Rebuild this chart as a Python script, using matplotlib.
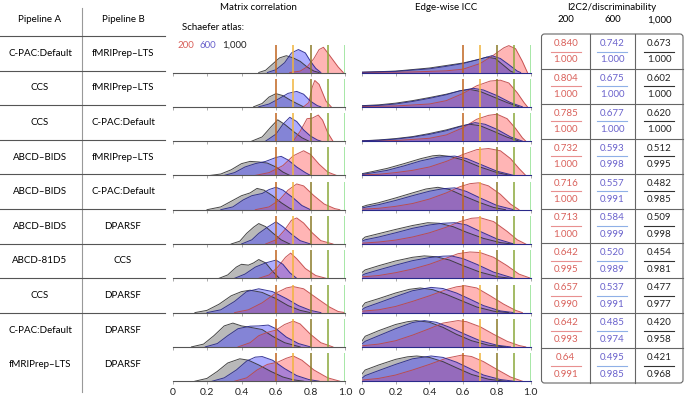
import matplotlib
matplotlib.use('Agg')
import matplotlib.pyplot as plt
import numpy as np
from matplotlib.patches import FancyBboxPatch

plt.rcParams['font.family'] = ['Lato', 'DejaVu Sans']

###########################################
##############   Data   ###################
###########################################

pipeline_a = ['C-PAC:Default', 'CCS', 'CCS', 'ABCD–BIDS', 'ABCD–BIDS', 'ABCD–BIDS',
              'ABCD-81D5', 'CCS', 'C-PAC:Default', 'fMRIPrep–LTS']
pipeline_b = ['fMRIPrep–LTS', 'fMRIPrep–LTS', 'C-PAC:Default', 'fMRIPrep–LTS', 'C-PAC:Default',
              'DPARSF', 'CCS', 'DPARSF', 'DPARSF', 'DPARSF']
atlas_labels = ['200', '600', '1,000']

# I2C2 (top) and discriminability (bottom) per atlas
i2c2_200 = ['0.840', '0.804', '0.785', '0.732', '0.716', '0.713', '0.642', '0.657', '0.642', '0.64']
i2c2_600 = ['0.742', '0.675', '0.677', '0.593', '0.557', '0.584', '0.520', '0.537', '0.485', '0.495']
i2c2_1000 = ['0.673', '0.602', '0.620', '0.512', '0.482', '0.509', '0.454', '0.477', '0.420', '0.421']
disc_200 = ['1.000', '1.000', '1.000', '1.000', '1.000', '1.000', '0.995', '0.990', '0.993', '0.991']
disc_600 = ['1.000', '1.000', '1.000', '0.998', '0.991', '0.999', '0.989', '0.991', '0.974', '0.985']
disc_1000 = ['1.000', '1.000', '1.000', '0.995', '0.985', '0.998', '0.981', '0.977', '0.958', '0.968']

thresholds = [0.6, 0.7, 0.8, 0.9, 1.0]

# density curves, (value, relative height) knots per row
mc_1000 = [
    [(0.50, 0), (0.54, 0.08), (0.58, 0.3), (0.62, 0.52), (0.66, 0.6), (0.70, 0.52), (0.74, 0.4), (0.78, 0.2), (0.82, 0.05), (0.85, 0)],
    [(0.47, 0), (0.52, 0.12), (0.56, 0.35), (0.60, 0.47), (0.64, 0.4), (0.68, 0.25), (0.72, 0.12), (0.76, 0)],
    [(0.46, 0), (0.52, 0.15), (0.57, 0.5), (0.61, 0.76), (0.65, 0.6), (0.70, 0.35), (0.75, 0.12), (0.79, 0)],
    [(0.22, 0), (0.28, 0.05), (0.34, 0.2), (0.40, 0.42), (0.45, 0.5), (0.50, 0.48), (0.55, 0.44), (0.60, 0.3), (0.64, 0.12), (0.68, 0)],
    [(0.20, 0), (0.28, 0.1), (0.34, 0.3), (0.40, 0.5), (0.45, 0.6), (0.49, 0.76), (0.53, 0.7), (0.58, 0.5), (0.63, 0.25), (0.68, 0.05), (0.70, 0)],
    [(0.34, 0), (0.39, 0.1), (0.43, 0.38), (0.47, 0.6), (0.50, 0.73), (0.54, 0.62), (0.58, 0.4), (0.63, 0.15), (0.68, 0)],
    [(0.27, 0), (0.32, 0.12), (0.37, 0.4), (0.40, 0.5), (0.44, 0.47), (0.47, 0.55), (0.50, 0.67), (0.54, 0.55), (0.58, 0.25), (0.62, 0)],
    [(0.13, 0), (0.20, 0.08), (0.27, 0.3), (0.34, 0.6), (0.40, 0.75), (0.45, 0.8), (0.52, 0.72), (0.60, 0.5), (0.67, 0.25), (0.74, 0.08), (0.80, 0)],
    [(0.11, 0), (0.18, 0.1), (0.24, 0.4), (0.30, 0.75), (0.35, 0.85), (0.40, 0.75), (0.45, 0.7), (0.52, 0.62), (0.58, 0.38), (0.65, 0.15), (0.74, 0)],
    [(0.13, 0), (0.20, 0.1), (0.26, 0.35), (0.32, 0.65), (0.39, 0.8), (0.44, 0.75), (0.50, 0.58), (0.57, 0.35), (0.64, 0.15), (0.70, 0.05), (0.76, 0)],
]
mc_600 = [
    [(0.55, 0), (0.60, 0.1), (0.65, 0.35), (0.69, 0.7), (0.73, 0.82), (0.77, 0.7), (0.80, 0.4), (0.83, 0.15), (0.86, 0)],
    [(0.50, 0), (0.56, 0.1), (0.62, 0.3), (0.67, 0.48), (0.72, 0.55), (0.76, 0.45), (0.80, 0.2), (0.84, 0.04), (0.86, 0)],
    [(0.54, 0), (0.60, 0.25), (0.64, 0.6), (0.68, 0.85), (0.72, 0.7), (0.76, 0.4), (0.80, 0.18), (0.84, 0.04), (0.86, 0)],
    [(0.30, 0), (0.36, 0.1), (0.42, 0.3), (0.48, 0.42), (0.54, 0.5), (0.60, 0.64), (0.63, 0.68), (0.67, 0.55), (0.72, 0.3), (0.77, 0.1), (0.80, 0)],
    [(0.28, 0), (0.35, 0.1), (0.41, 0.35), (0.46, 0.5), (0.52, 0.58), (0.56, 0.72), (0.60, 0.8), (0.64, 0.7), (0.70, 0.42), (0.75, 0.15), (0.80, 0)],
    [(0.40, 0), (0.46, 0.15), (0.50, 0.38), (0.55, 0.6), (0.60, 0.79), (0.64, 0.62), (0.69, 0.35), (0.74, 0.12), (0.80, 0)],
    [(0.36, 0), (0.42, 0.15), (0.48, 0.4), (0.54, 0.55), (0.60, 0.65), (0.64, 0.5), (0.68, 0.2), (0.72, 0)],
    [(0.20, 0), (0.28, 0.1), (0.36, 0.4), (0.43, 0.75), (0.50, 0.85), (0.58, 0.75), (0.66, 0.5), (0.73, 0.25), (0.80, 0.08), (0.86, 0)],
    [(0.19, 0), (0.26, 0.12), (0.32, 0.4), (0.38, 0.65), (0.45, 0.74), (0.50, 0.75), (0.555, 0.78), (0.60, 0.65), (0.66, 0.35), (0.73, 0.12), (0.80, 0)],
    [(0.23, 0), (0.30, 0.12), (0.37, 0.4), (0.43, 0.72), (0.48, 0.86), (0.52, 0.88), (0.58, 0.75), (0.65, 0.45), (0.72, 0.2), (0.79, 0.06), (0.85, 0)],
]
mc_200 = [
    [(0.68, 0), (0.74, 0.05), (0.78, 0.2), (0.82, 0.5), (0.85, 0.82), (0.875, 0.9), (0.90, 0.7), (0.93, 0.45), (0.96, 0.2), (0.99, 0)],
    [(0.76, 0), (0.79, 0.15), (0.81, 0.7), (0.825, 0.94), (0.85, 0.8), (0.87, 0.5), (0.89, 0.2), (0.92, 0)],
    [(0.70, 0), (0.74, 0.35), (0.78, 0.8), (0.81, 0.82), (0.845, 0.93), (0.87, 0.75), (0.90, 0.3), (0.93, 0)],
    [(0.48, 0), (0.56, 0.1), (0.64, 0.35), (0.70, 0.7), (0.76, 0.88), (0.80, 0.75), (0.85, 0.4), (0.90, 0.12), (0.95, 0)],
    [(0.48, 0), (0.56, 0.1), (0.62, 0.35), (0.67, 0.7), (0.72, 0.92), (0.76, 0.85), (0.82, 0.5), (0.88, 0.2), (0.94, 0.04), (0.97, 0)],
    [(0.54, 0), (0.60, 0.15), (0.65, 0.5), (0.69, 0.85), (0.72, 0.93), (0.76, 0.75), (0.81, 0.4), (0.86, 0.12), (0.93, 0)],
    [(0.50, 0), (0.56, 0.12), (0.61, 0.4), (0.655, 0.75), (0.685, 0.9), (0.72, 0.7), (0.77, 0.35), (0.83, 0.1), (0.89, 0)],
    [(0.36, 0), (0.44, 0.1), (0.52, 0.35), (0.60, 0.7), (0.66, 0.88), (0.70, 0.93), (0.76, 0.85), (0.84, 0.5), (0.91, 0.2), (0.96, 0.04), (1.0, 0)],
    [(0.38, 0), (0.45, 0.15), (0.50, 0.4), (0.55, 0.52), (0.60, 0.6), (0.65, 0.8), (0.70, 0.92), (0.74, 0.82), (0.80, 0.45), (0.86, 0.15), (0.93, 0)],
    [(0.36, 0), (0.43, 0.12), (0.49, 0.4), (0.55, 0.6), (0.61, 0.68), (0.66, 0.82), (0.70, 0.9), (0.75, 0.75), (0.82, 0.4), (0.90, 0.12), (0.97, 0)],
]

icc_1000 = [
    [(0, 0.01), (0.2, 0.05), (0.4, 0.16), (0.5, 0.25), (0.6, 0.34), (0.68, 0.45), (0.74, 0.55), (0.79, 0.5), (0.84, 0.25), (0.88, 0.05), (0.90, 0)],
    [(0, 0.04), (0.1, 0.07), (0.2, 0.13), (0.3, 0.22), (0.4, 0.33), (0.5, 0.45), (0.58, 0.57), (0.64, 0.62), (0.70, 0.55), (0.78, 0.35), (0.86, 0.15), (0.93, 0)],
    [(0, 0.01), (0.1, 0.04), (0.2, 0.09), (0.3, 0.16), (0.4, 0.27), (0.5, 0.4), (0.58, 0.53), (0.64, 0.6), (0.70, 0.55), (0.78, 0.35), (0.86, 0.14), (0.93, 0)],
    [(0, 0.06), (0.05, 0.12), (0.15, 0.25), (0.25, 0.42), (0.35, 0.6), (0.42, 0.7), (0.46, 0.72), (0.52, 0.68), (0.60, 0.55), (0.70, 0.3), (0.80, 0.1), (0.88, 0)],
    [(0, 0.1), (0.03, 0.16), (0.1, 0.25), (0.2, 0.42), (0.3, 0.6), (0.38, 0.74), (0.45, 0.8), (0.52, 0.72), (0.60, 0.5), (0.70, 0.25), (0.78, 0.08), (0.85, 0)],
    [(0, 0.15), (0.02, 0.25), (0.1, 0.37), (0.2, 0.52), (0.3, 0.66), (0.39, 0.76), (0.46, 0.74), (0.54, 0.62), (0.62, 0.42), (0.72, 0.2), (0.82, 0.05), (0.89, 0)],
    [(0, 0.2), (0.02, 0.3), (0.1, 0.45), (0.2, 0.62), (0.3, 0.75), (0.37, 0.8), (0.44, 0.77), (0.52, 0.65), (0.60, 0.45), (0.70, 0.22), (0.80, 0.06), (0.88, 0)],
    [(0, 0.2), (0.02, 0.35), (0.1, 0.5), (0.2, 0.7), (0.28, 0.83), (0.345, 0.88), (0.42, 0.82), (0.50, 0.65), (0.58, 0.45), (0.68, 0.2), (0.78, 0.05), (0.87, 0)],
    [(0, 0.2), (0.02, 0.38), (0.1, 0.58), (0.2, 0.8), (0.27, 0.9), (0.32, 0.94), (0.40, 0.88), (0.48, 0.7), (0.56, 0.45), (0.65, 0.22), (0.75, 0.06), (0.85, 0)],
    [(0, 0.25), (0.02, 0.4), (0.1, 0.58), (0.2, 0.78), (0.27, 0.87), (0.325, 0.9), (0.40, 0.85), (0.48, 0.7), (0.56, 0.48), (0.65, 0.24), (0.75, 0.07), (0.85, 0)],
]
icc_600 = [
    [(0, 0.01), (0.2, 0.04), (0.4, 0.13), (0.5, 0.22), (0.6, 0.32), (0.70, 0.48), (0.77, 0.6), (0.82, 0.5), (0.87, 0.28), (0.92, 0.05), (0.94, 0)],
    [(0, 0.03), (0.1, 0.05), (0.2, 0.1), (0.3, 0.19), (0.4, 0.3), (0.5, 0.43), (0.58, 0.57), (0.66, 0.66), (0.72, 0.6), (0.80, 0.4), (0.88, 0.15), (0.95, 0)],
    [(0, 0.01), (0.1, 0.03), (0.2, 0.07), (0.3, 0.14), (0.4, 0.24), (0.5, 0.37), (0.60, 0.55), (0.67, 0.66), (0.73, 0.6), (0.80, 0.42), (0.88, 0.15), (0.95, 0)],
    [(0, 0.04), (0.05, 0.08), (0.15, 0.18), (0.25, 0.34), (0.35, 0.52), (0.45, 0.65), (0.55, 0.69), (0.62, 0.6), (0.70, 0.4), (0.80, 0.15), (0.90, 0)],
    [(0, 0.06), (0.03, 0.1), (0.1, 0.18), (0.2, 0.33), (0.3, 0.5), (0.4, 0.66), (0.48, 0.75), (0.55, 0.78), (0.62, 0.65), (0.70, 0.42), (0.80, 0.15), (0.90, 0)],
    [(0, 0.1), (0.02, 0.15), (0.1, 0.25), (0.2, 0.4), (0.3, 0.56), (0.4, 0.68), (0.48, 0.74), (0.55, 0.76), (0.62, 0.68), (0.70, 0.45), (0.80, 0.18), (0.90, 0)],
    [(0, 0.1), (0.02, 0.16), (0.1, 0.3), (0.2, 0.47), (0.3, 0.63), (0.4, 0.74), (0.48, 0.79), (0.53, 0.8), (0.60, 0.7), (0.68, 0.5), (0.78, 0.22), (0.90, 0)],
    [(0, 0.1), (0.02, 0.18), (0.1, 0.35), (0.2, 0.57), (0.3, 0.78), (0.41, 0.9), (0.48, 0.86), (0.56, 0.7), (0.64, 0.48), (0.72, 0.25), (0.82, 0.06), (0.90, 0)],
    [(0, 0.1), (0.02, 0.2), (0.1, 0.4), (0.2, 0.65), (0.3, 0.87), (0.37, 0.94), (0.44, 0.88), (0.52, 0.7), (0.60, 0.48), (0.70, 0.22), (0.80, 0.06), (0.88, 0)],
    [(0, 0.1), (0.02, 0.2), (0.1, 0.38), (0.2, 0.6), (0.3, 0.8), (0.41, 0.9), (0.48, 0.85), (0.56, 0.68), (0.64, 0.45), (0.72, 0.22), (0.82, 0.06), (0.90, 0)],
]
icc_200 = [
    [(0, 0), (0.3, 0.02), (0.5, 0.06), (0.6, 0.12), (0.7, 0.32), (0.78, 0.62), (0.84, 0.88), (0.87, 0.96), (0.91, 0.85), (0.95, 0.4), (0.98, 0)],
    [(0, 0.01), (0.2, 0.03), (0.4, 0.1), (0.5, 0.22), (0.6, 0.48), (0.68, 0.75), (0.76, 0.92), (0.82, 0.95), (0.87, 0.85), (0.92, 0.5), (0.96, 0.15), (0.98, 0)],
    [(0, 0), (0.2, 0.02), (0.4, 0.1), (0.5, 0.22), (0.6, 0.48), (0.68, 0.78), (0.75, 0.92), (0.80, 0.96), (0.86, 0.8), (0.91, 0.45), (0.95, 0.12), (0.97, 0)],
    [(0, 0.02), (0.1, 0.04), (0.2, 0.1), (0.3, 0.18), (0.4, 0.3), (0.5, 0.5), (0.6, 0.75), (0.68, 0.92), (0.75, 0.96), (0.82, 0.88), (0.88, 0.6), (0.93, 0.25), (0.97, 0)],
    [(0, 0.02), (0.1, 0.05), (0.2, 0.12), (0.3, 0.22), (0.4, 0.38), (0.5, 0.6), (0.58, 0.82), (0.64, 0.93), (0.69, 0.96), (0.75, 0.85), (0.82, 0.55), (0.88, 0.2), (0.93, 0)],
    [(0, 0.03), (0.1, 0.07), (0.2, 0.14), (0.3, 0.25), (0.4, 0.4), (0.5, 0.6), (0.58, 0.8), (0.65, 0.92), (0.70, 0.94), (0.78, 0.8), (0.86, 0.45), (0.92, 0.15), (0.97, 0)],
    [(0, 0.05), (0.1, 0.1), (0.2, 0.2), (0.3, 0.33), (0.4, 0.5), (0.5, 0.72), (0.57, 0.88), (0.64, 0.94), (0.70, 0.92), (0.78, 0.75), (0.86, 0.45), (0.93, 0.15), (1.0, 0)],
    [(0, 0.05), (0.1, 0.1), (0.2, 0.22), (0.3, 0.4), (0.4, 0.6), (0.5, 0.82), (0.56, 0.92), (0.61, 0.96), (0.68, 0.88), (0.76, 0.6), (0.84, 0.3), (0.91, 0.08), (0.95, 0)],
    [(0, 0.04), (0.1, 0.1), (0.2, 0.22), (0.3, 0.42), (0.4, 0.65), (0.48, 0.85), (0.57, 0.94), (0.62, 0.9), (0.70, 0.72), (0.78, 0.45), (0.86, 0.2), (0.93, 0.05), (0.97, 0)],
    [(0, 0.04), (0.1, 0.1), (0.2, 0.22), (0.3, 0.4), (0.4, 0.6), (0.5, 0.82), (0.59, 0.93), (0.65, 0.88), (0.72, 0.7), (0.80, 0.42), (0.88, 0.15), (0.95, 0)],
]

###########################################
##############   Style   ##################
###########################################

W, H = 685, 397
RED, BLUE, BLACK = '#d9605a', '#6a62cc', '#222222'
thr_colors = ['#c0641e', '#f0b43c', '#8a7a28', '#8aa83a', '#8ee08e']
# (face, edge, alpha) for 1000, 200, 600 in drawing order
fill_styles = [
    ('#808080', '#333333', 0.55),
    ('#ff5050', '#c04545', 0.42),
    ('#3c3cff', '#24248c', 0.42),
]
fs = 7

fig = plt.figure(figsize=(W / 100, H / 100), dpi=100)
over = fig.add_axes([0, 0, 1, 1])
over.set_xlim(0, W)
over.set_ylim(H, 0)
over.axis('off')

row_base0, row_step = 72.5, 34.3   # ridge baselines in pixels
line_h = 28.0                      # pixel height of a threshold line


def ridge(ax, curves, edge_panel):
    for (face, edge, al), pts in zip(fill_styles, curves):
        x = [p[0] for p in pts]
        y = [p[1] for p in pts]
        ax.fill_between(x, 0, y, color=face, alpha=al, lw=0)
    for (face, edge, al), pts in zip(fill_styles, curves):
        ax.plot([p[0] for p in pts], [p[1] for p in pts], color=edge, lw=0.7, alpha=0.9)
    for t, c in zip(thresholds, thr_colors):
        ax.vlines(t, 0, 1.0, color=c, lw=1.1, zorder=5)
    ax.set_xlim(0, 1)
    ax.set_ylim(0, row_step / line_h)
    for s in ['top', 'right', 'left']:
        ax.spines[s].set_visible(False)
    ax.spines['bottom'].set_color('#2a2a8a' if edge_panel else '#555555')
    ax.spines['bottom'].set_linewidth(0.8)
    ax.set_yticks([])
    ax.set_xticks([0, 0.2, 0.4, 0.6, 0.8, 1.0])
    ax.tick_params(axis='x', length=2, width=0.5, color='#888888', labelsize=fs + 0.5,
                   pad=3, labelcolor=BLACK)
    ax.patch.set_alpha(0)


panels = [(172.5, 172.5, mc_1000, mc_200, mc_600, False),
          (361.8, 169.0, icc_1000, icc_200, icc_600, True)]
for k in range(10):
    base = row_base0 + k * row_step
    for x0, wpx, c1000, c200, c600, edge in panels:
        ax = fig.add_axes([x0 / W, (H - base) / H, wpx / W, row_step / H])
        ridge(ax, [c1000[k], c200[k], c600[k]], edge)
        if k < 9:
            ax.set_xticklabels([])
        else:
            ax.set_xticklabels(['0', '0.2', '0.4', '0.6', '0.8', '1.0'])

# panel titles
over.text(258, 7, 'Matrix correlation', ha='center', va='center', fontsize=fs)
over.text(446, 7, 'Edge-wise ICC', ha='center', va='center', fontsize=fs)
over.text(612, 7, 'I2C2/discriminability', ha='center', va='center', fontsize=fs)
over.text(182, 28, 'Schaefer atlas:', ha='left', va='center', fontsize=fs)
for lab, c, xx in zip(atlas_labels, [RED, BLUE, BLACK], [178, 200, 222]):
    over.text(xx, 45, lab, ha='left', va='center', fontsize=fs, color=c)

# left table
row_top0, row_h = 36.0, 34.6
over.text(40, 20, 'Pipeline A', ha='center', va='center', fontsize=fs)
over.text(123, 20, 'Pipeline B', ha='center', va='center', fontsize=fs)
over.plot([82, 82], [8, 392], color='#999999', lw=0.8)
for k in range(9):
    yy = row_top0 + k * row_h
    over.plot([0, 165], [yy, yy], color='#555555', lw=0.8)
for k, (a, b) in enumerate(zip(pipeline_a, pipeline_b)):
    yc = row_top0 + row_h / 2 + k * row_h
    over.text(40, yc, a, ha='center', va='center', fontsize=fs)
    over.text(123, yc, b, ha='center', va='center', fontsize=fs)

# right table
tx0, tx1 = 541.5, 683.0
ty0, th = 34.0, 34.9
col_edges = [tx0, 590.0, 635.0, tx1]
over.add_patch(FancyBboxPatch((tx0, ty0), tx1 - tx0, 10 * th,
                              boxstyle='round,pad=0,rounding_size=3',
                              fc='none', ec='#666666', lw=0.8))
for xe in col_edges[1:-1]:
    over.plot([xe, xe], [ty0, ty0 + 10 * th], color='#666666', lw=0.8)
for k in range(1, 10):
    yy = ty0 + k * th
    over.plot([tx0, tx1], [yy, yy], color='#666666', lw=0.8)

top_vals = [i2c2_200, i2c2_600, i2c2_1000]
bot_vals = [disc_200, disc_600, disc_1000]
txt_cols = [RED, BLUE, BLACK]
bar_cols = ['#e89090', '#8fb0e6', '#333333']
for j in range(3):
    xc = (col_edges[j] + col_edges[j + 1]) / 2
    over.text(xc, 20, atlas_labels[j], ha='center', va='center', fontsize=fs)
    for k in range(10):
        yt = ty0 + k * th
        over.text(xc, yt + 9.5, top_vals[j][k], ha='center', va='center', fontsize=fs, color=txt_cols[j])
        over.plot([xc - 15, xc + 15], [yt + 17.5, yt + 17.5], color=bar_cols[j], lw=0.8)
        over.text(xc, yt + 26, bot_vals[j][k], ha='center', va='center', fontsize=fs, color=txt_cols[j])

fig.savefig('out.png', dpi=100)
